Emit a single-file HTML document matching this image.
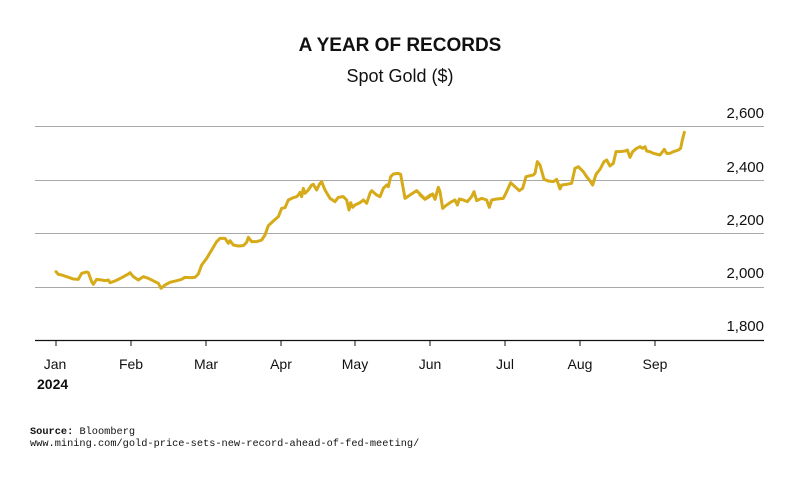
<!DOCTYPE html>
<html><head><meta charset="utf-8"><style>
html,body{margin:0;padding:0;background:#fff;width:800px;height:480px;overflow:hidden}
svg{display:block}
</style></head><body>
<svg width="800" height="480" viewBox="0 0 800 480" xmlns="http://www.w3.org/2000/svg" font-family="Liberation Sans, sans-serif">
<text x="400" y="51" text-anchor="middle" font-size="19" font-weight="bold" fill="#111">A YEAR OF RECORDS</text>
<text x="400" y="82" text-anchor="middle" font-size="18" fill="#111">Spot Gold ($)</text>
<g stroke="#a8a8a8" stroke-width="1">
<line x1="35" y1="126.5" x2="764" y2="126.5"/>
<line x1="35" y1="180.5" x2="764" y2="180.5"/>
<line x1="35" y1="233.5" x2="764" y2="233.5"/>
<line x1="35" y1="287.5" x2="764" y2="287.5"/>
</g>
<line x1="35" y1="340.5" x2="764" y2="340.5" stroke="#111" stroke-width="1.2"/>
<g stroke="#111" stroke-width="1">
<line x1="56" y1="340" x2="56" y2="346"/><line x1="131" y1="340" x2="131" y2="346"/>
<line x1="206" y1="340" x2="206" y2="346"/><line x1="281" y1="340" x2="281" y2="346"/>
<line x1="355" y1="340" x2="355" y2="346"/><line x1="430" y1="340" x2="430" y2="346"/>
<line x1="505" y1="340" x2="505" y2="346"/><line x1="580" y1="340" x2="580" y2="346"/>
<line x1="655" y1="340" x2="655" y2="346"/>
</g>
<g font-size="15" fill="#111" text-anchor="end">
<text x="764" y="172">2,400</text><text x="764" y="225">2,200</text>
<text x="764" y="278">2,000</text><text x="764" y="331">1,800</text>
<text x="764" y="118">2,600</text>
</g>
<g font-size="14" fill="#111" text-anchor="middle">
<text x="55" y="369">Jan</text><text x="131" y="369">Feb</text><text x="206" y="369">Mar</text>
<text x="281" y="369">Apr</text><text x="355" y="369">May</text><text x="430" y="369">Jun</text>
<text x="505" y="369">Jul</text><text x="580" y="369">Aug</text><text x="655" y="369">Sep</text>
</g>
<text x="37" y="389" font-size="14" font-weight="bold" fill="#111">2024</text>
<g fill="none" stroke="#D6AA18" stroke-width="3" stroke-linejoin="round" stroke-linecap="round">
<g transform="translate(30,120) scale(0.33333)">
<polyline vector-effect="non-scaling-stroke" points="78,455 85,463 95,465 110,470 130,477 145,478 155,460 170,456 175,458 185,485 190,493 200,478 215,480 225,482 235,480 240,488 255,483 275,473 295,462 300,458 310,470 325,480 340,470 355,475 375,485 385,490 393,505 405,495 420,487 440,482 455,478 465,472 480,473 495,472 505,462 515,435 530,415 545,390 560,365 570,355 585,355 595,370 600,362 610,375 625,378 640,377 650,367 655,352 665,365 680,365 695,360 705,345 715,317 730,303 745,290 755,265 765,263 775,240 790,233 800,230 805,225 810,217 815,230 820,205 825,220 835,210 845,195 850,193 860,210 868,193 875,185 885,210 900,235 915,245 925,232 940,230 950,240 957,270 962,248 968,262 975,255 990,248 1000,240 1010,250 1020,220 1025,212 1040,225 1050,230 1060,205 1070,195 1075,200 1082,170 1090,162 1105,160 1112,163 1125,235 1140,225 1160,212 1175,227 1185,237 1200,225"/>
</g>
<g transform="translate(420,120) scale(0.33333)">
<polyline vector-effect="non-scaling-stroke" points="0,225 15,238 25,232 38,222 45,238 55,202 60,215 68,265 80,255 95,245 105,240 112,255 118,237 130,240 142,245 155,230 162,215 170,242 185,235 200,240 208,262 215,240 230,237 250,235 260,215 272,188 285,200 298,212 308,205 318,170 330,167 340,165 345,160 352,125 360,135 372,178 385,183 400,185 410,178 420,207 425,195 440,193 455,190 465,145 475,140 490,155 500,170 508,180 518,195 528,163 540,148 552,125 560,120 570,138 580,130 588,95 600,95 615,93 622,90 630,112 638,95 650,85 660,80 668,85 675,80 680,93 690,95 700,100 720,105 733,88 740,100 750,100 760,95 775,90 782,85 787,60 793,37"/>
</g>
</g>
<g font-family="Liberation Mono, monospace" font-size="10.3" fill="#111">
<text x="30" y="434"><tspan font-weight="bold">Source:</tspan> Bloomberg</text>
<text x="30" y="446">www.mining.com/gold-price-sets-new-record-ahead-of-fed-meeting/</text>
</g>
</svg>
</body></html>
